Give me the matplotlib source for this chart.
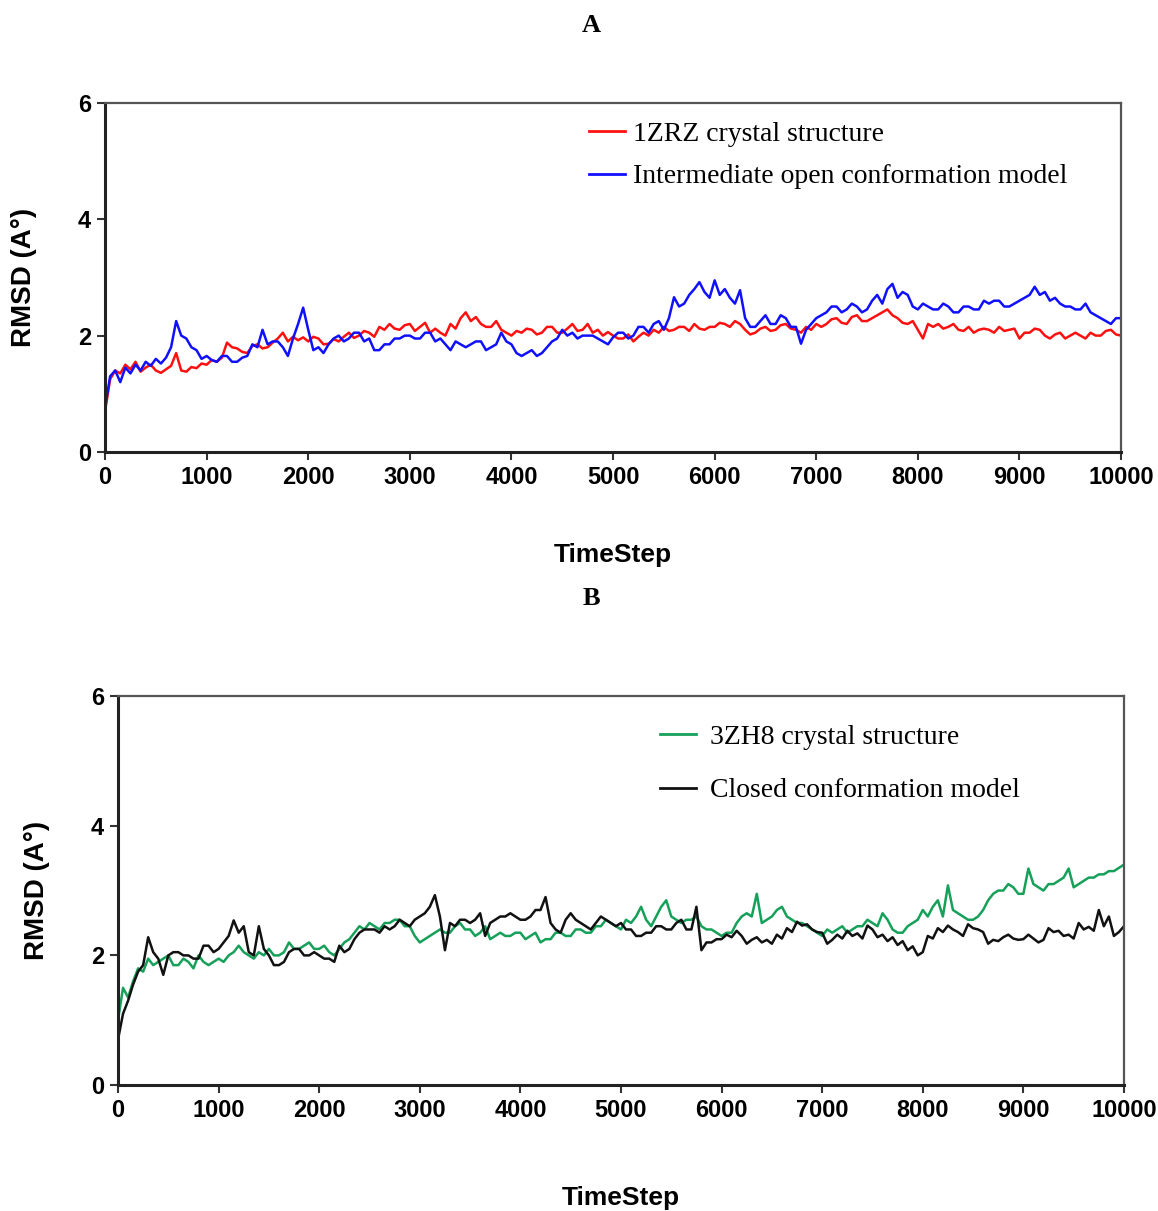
import numpy as np
import matplotlib
matplotlib.use("Agg")
import matplotlib.pyplot as plt
from matplotlib.lines import Line2D

# time axis: every 50 steps from 0 to 10000
timestep = np.arange(0, 10001, 50)

# panel A
rmsd_1zrz = [
    0.70, 1.25, 1.40, 1.35, 1.50, 1.42, 1.55, 1.38, 1.45, 1.50, 1.40, 1.36, 1.42, 1.48, 1.70, 1.40, 1.38, 1.46, 1.44, 1.52,
    1.50, 1.58, 1.55, 1.62, 1.88, 1.80, 1.78, 1.72, 1.70, 1.82, 1.85, 1.78, 1.80, 1.88, 1.95, 2.05, 1.90, 1.98, 1.92, 1.97,
    1.90, 1.98, 1.95, 1.85, 1.86, 1.94, 1.90, 1.98, 2.05, 1.96, 2.00, 2.08, 2.05, 1.98, 2.15, 2.10, 2.20, 2.12, 2.10, 2.18,
    2.20, 2.08, 2.15, 2.22, 2.05, 2.12, 2.05, 2.00, 2.20, 2.12, 2.30, 2.40, 2.25, 2.32, 2.20, 2.15, 2.15, 2.25, 2.10, 2.05,
    2.00, 2.08, 2.05, 2.12, 2.10, 2.02, 2.05, 2.15, 2.15, 2.05, 2.05, 2.12, 2.20, 2.08, 2.10, 2.20, 2.05, 2.10, 2.00, 2.06,
    2.00, 1.95, 1.95, 2.02, 1.90, 1.98, 2.05, 2.00, 2.10, 2.05, 2.15, 2.08, 2.10, 2.15, 2.15, 2.08, 2.20, 2.12, 2.10, 2.15,
    2.15, 2.22, 2.20, 2.15, 2.25, 2.20, 2.10, 2.02, 2.05, 2.12, 2.15, 2.08, 2.10, 2.18, 2.20, 2.12, 2.10, 2.05, 2.15, 2.10,
    2.20, 2.15, 2.20, 2.28, 2.30, 2.22, 2.20, 2.32, 2.35, 2.25, 2.25, 2.30, 2.35, 2.40, 2.45, 2.35, 2.30, 2.22, 2.20, 2.25,
    2.10, 1.95, 2.20, 2.15, 2.20, 2.12, 2.15, 2.20, 2.10, 2.08, 2.15, 2.05, 2.10, 2.12, 2.10, 2.05, 2.15, 2.08, 2.10, 2.12,
    1.95, 2.05, 2.05, 2.12, 2.10, 2.00, 1.95, 2.02, 2.05, 1.95, 2.00, 2.05, 2.00, 1.95, 2.05, 2.00, 2.00, 2.08, 2.10, 2.02,
    2.00,
]
rmsd_open = [
    0.75, 1.30, 1.40, 1.20, 1.45, 1.35, 1.50, 1.40, 1.55, 1.48, 1.60, 1.52, 1.62, 1.80, 2.25, 2.00, 1.95, 1.80, 1.75, 1.60,
    1.65, 1.58, 1.55, 1.65, 1.65, 1.55, 1.55, 1.62, 1.65, 1.85, 1.80, 2.10, 1.85, 1.90, 1.90, 1.80, 1.65, 1.95, 2.20, 2.48,
    2.10, 1.75, 1.80, 1.70, 1.85, 1.95, 2.00, 1.90, 1.95, 2.05, 2.05, 1.90, 1.95, 1.75, 1.75, 1.85, 1.85, 1.95, 1.95, 2.00,
    2.00, 1.95, 1.95, 2.05, 2.05, 1.90, 1.95, 1.85, 1.75, 1.90, 1.85, 1.80, 1.85, 1.90, 1.90, 1.75, 1.80, 1.85, 2.05, 1.90,
    1.85, 1.70, 1.65, 1.70, 1.75, 1.65, 1.70, 1.80, 1.90, 1.95, 2.10, 2.00, 2.05, 1.95, 2.00, 2.00, 2.00, 1.95, 1.90, 1.85,
    1.97, 2.05, 2.05, 1.95, 2.00, 2.15, 2.15, 2.05, 2.20, 2.25, 2.10, 2.30, 2.66, 2.50, 2.55, 2.70, 2.80, 2.92, 2.75, 2.65,
    2.95, 2.70, 2.80, 2.65, 2.55, 2.78, 2.30, 2.15, 2.15, 2.25, 2.35, 2.20, 2.20, 2.35, 2.30, 2.15, 2.15, 1.86, 2.10, 2.20,
    2.30, 2.35, 2.40, 2.50, 2.50, 2.40, 2.45, 2.55, 2.50, 2.40, 2.45, 2.60, 2.70, 2.55, 2.80, 2.89, 2.65, 2.75, 2.70, 2.50,
    2.45, 2.55, 2.50, 2.45, 2.45, 2.55, 2.50, 2.40, 2.40, 2.50, 2.50, 2.45, 2.45, 2.60, 2.55, 2.60, 2.60, 2.50, 2.50, 2.55,
    2.60, 2.65, 2.70, 2.84, 2.70, 2.75, 2.60, 2.65, 2.55, 2.50, 2.50, 2.45, 2.45, 2.55, 2.40, 2.35, 2.30, 2.25, 2.20, 2.30,
    2.30,
]

# panel B
rmsd_3zh8 = [
    1.00, 1.50, 1.35, 1.60, 1.80, 1.75, 1.95, 1.85, 1.90, 1.95, 2.00, 1.85, 1.85, 1.95, 1.90, 1.80, 2.00, 1.90, 1.85, 1.90,
    1.95, 1.90, 2.00, 2.05, 2.15, 2.05, 2.00, 1.95, 2.05, 2.00, 2.10, 2.00, 2.00, 2.05, 2.20, 2.10, 2.10, 2.15, 2.20, 2.10,
    2.10, 2.15, 2.05, 2.00, 2.10, 2.20, 2.25, 2.35, 2.45, 2.40, 2.50, 2.45, 2.40, 2.50, 2.50, 2.55, 2.55, 2.45, 2.45, 2.30,
    2.20, 2.25, 2.30, 2.35, 2.40, 2.35, 2.35, 2.45, 2.50, 2.40, 2.40, 2.30, 2.35, 2.45, 2.25, 2.30, 2.35, 2.30, 2.30, 2.35,
    2.35, 2.25, 2.30, 2.35, 2.20, 2.25, 2.25, 2.35, 2.35, 2.30, 2.30, 2.40, 2.40, 2.35, 2.35, 2.45, 2.45, 2.55, 2.50, 2.45,
    2.40, 2.55, 2.50, 2.60, 2.75, 2.55, 2.45, 2.60, 2.75, 2.85, 2.60, 2.55, 2.50, 2.55, 2.55, 2.60, 2.45, 2.40, 2.40, 2.35,
    2.30, 2.35, 2.35, 2.50, 2.60, 2.65, 2.60, 2.95, 2.50, 2.55, 2.60, 2.70, 2.75, 2.60, 2.55, 2.50, 2.50, 2.45, 2.40, 2.35,
    2.30, 2.40, 2.35, 2.40, 2.45, 2.35, 2.40, 2.45, 2.45, 2.55, 2.50, 2.45, 2.65, 2.55, 2.40, 2.35, 2.35, 2.45, 2.50, 2.55,
    2.70, 2.60, 2.75, 2.85, 2.60, 3.08, 2.70, 2.65, 2.60, 2.55, 2.55, 2.60, 2.70, 2.85, 2.95, 3.00, 3.00, 3.10, 3.05, 2.95,
    2.95, 3.34, 3.10, 3.05, 3.00, 3.10, 3.10, 3.15, 3.20, 3.34, 3.05, 3.10, 3.15, 3.20, 3.20, 3.25, 3.25, 3.30, 3.30, 3.35,
    3.40,
]
rmsd_closed = [
    0.70, 1.10, 1.30, 1.55, 1.75, 1.85, 2.28, 2.05, 1.95, 1.70, 2.00, 2.05, 2.05, 2.00, 2.00, 1.95, 1.95, 2.15, 2.15, 2.05,
    2.10, 2.20, 2.30, 2.54, 2.35, 2.45, 2.05, 2.00, 2.45, 2.10, 2.00, 1.85, 1.85, 1.90, 2.05, 2.10, 2.10, 2.00, 2.00, 2.05,
    2.00, 1.95, 1.95, 1.90, 2.15, 2.05, 2.10, 2.25, 2.35, 2.40, 2.40, 2.40, 2.35, 2.45, 2.40, 2.45, 2.55, 2.50, 2.45, 2.55,
    2.60, 2.65, 2.75, 2.93, 2.60, 2.08, 2.50, 2.45, 2.55, 2.55, 2.50, 2.55, 2.65, 2.30, 2.50, 2.55, 2.60, 2.60, 2.65, 2.60,
    2.55, 2.55, 2.60, 2.70, 2.70, 2.90, 2.50, 2.40, 2.35, 2.55, 2.65, 2.55, 2.50, 2.45, 2.40, 2.50, 2.60, 2.55, 2.50, 2.45,
    2.50, 2.40, 2.40, 2.30, 2.30, 2.35, 2.35, 2.45, 2.45, 2.40, 2.40, 2.50, 2.55, 2.40, 2.40, 2.75, 2.08, 2.20, 2.20, 2.25,
    2.25, 2.32, 2.28, 2.38, 2.30, 2.18, 2.24, 2.28, 2.20, 2.24, 2.18, 2.32, 2.26, 2.42, 2.36, 2.52, 2.46, 2.48, 2.40, 2.36,
    2.35, 2.18, 2.24, 2.32, 2.26, 2.38, 2.30, 2.34, 2.26, 2.46, 2.40, 2.28, 2.32, 2.22, 2.28, 2.16, 2.22, 2.08, 2.14, 2.00,
    2.05, 2.30, 2.26, 2.42, 2.36, 2.46, 2.40, 2.36, 2.30, 2.48, 2.42, 2.40, 2.36, 2.18, 2.24, 2.22, 2.28, 2.32, 2.26, 2.24,
    2.25, 2.32, 2.26, 2.20, 2.24, 2.42, 2.36, 2.38, 2.30, 2.32, 2.26, 2.50, 2.40, 2.44, 2.38, 2.70, 2.45, 2.60, 2.30, 2.36,
    2.45,
]

x_ticks = np.arange(0, 10001, 1000)
y_ticks = [0, 2, 4, 6]

tick_font = ['Liberation Sans Narrow', 'Liberation Sans']
serif_font = ['Liberation Serif', 'DejaVu Serif']


def style_axes(ax):
    ax.set_xlim(0, 10000)
    ax.set_ylim(0, 6)
    ax.set_xticks(x_ticks)
    ax.set_yticks(y_ticks)
    for lab in ax.get_xticklabels() + ax.get_yticklabels():
        lab.set_family(tick_font)
        lab.set_fontweight('bold')
        lab.set_fontsize(17)
    ax.tick_params(direction='out', length=6, width=1.5, color='#333333', pad=4)
    for side in ('left', 'bottom'):
        ax.spines[side].set_linewidth(2.2)
        ax.spines[side].set_color('#222222')
    for side in ('top', 'right'):
        ax.spines[side].set_linewidth(1.6)
        ax.spines[side].set_color('#555555')
    ax.set_ylabel('RMSD (A°)', family=tick_font, fontweight='bold', fontsize=20)


fig = plt.figure(figsize=(11.58, 12.11), dpi=100)

# panel A
axA = fig.add_axes([0.0907, 0.6268, 0.8774, 0.2882])
axA.plot(timestep, rmsd_1zrz, color='#ff1010', lw=1.8)
axA.plot(timestep, rmsd_open, color='#1010ff', lw=1.8)
style_axes(axA)
axA.set_xlabel('TimeStep', family=tick_font, fontweight='bold', fontsize=19, labelpad=39)
axA.yaxis.set_label_coords(-0.067, 0.5)
handlesA = [Line2D([], [], color='#ff1010', lw=2), Line2D([], [], color='#1010ff', lw=2)]
axA.legend(handlesA, ['1ZRZ crystal structure', 'Intermediate open conformation model'],
           loc='upper left', bbox_to_anchor=(0.465, 0.978), frameon=False,
           prop={'family': serif_font, 'size': 20}, handlelength=1.3,
           handletextpad=0.3, labelspacing=0.6, borderaxespad=0)

# panel B
axB = fig.add_axes([0.1019, 0.1040, 0.8687, 0.3212])
axB.plot(timestep, rmsd_3zh8, color='#16a05a', lw=1.8)
axB.plot(timestep, rmsd_closed, color='#111111', lw=1.8)
style_axes(axB)
axB.set_xlabel('TimeStep', family=tick_font, fontweight='bold', fontsize=19, labelpad=46)
axB.yaxis.set_label_coords(-0.068, 0.5)
handlesB = [Line2D([], [], color='#16a05a', lw=2), Line2D([], [], color='#111111', lw=2)]
axB.legend(handlesB, ['3ZH8 crystal structure', 'Closed conformation model'],
           loc='upper left', bbox_to_anchor=(0.528, 0.955), frameon=False,
           prop={'family': serif_font, 'size': 20}, handlelength=1.3,
           handletextpad=0.5, labelspacing=1.0, borderaxespad=0)

fig.text(0.5105, 0.979, 'A', ha='center', va='center', family=serif_font, fontweight='bold', fontsize=19)
fig.text(0.5105, 0.506, 'B', ha='center', va='center', family=serif_font, fontweight='bold', fontsize=19)

fig.savefig('out.png', dpi=100, facecolor='white')
